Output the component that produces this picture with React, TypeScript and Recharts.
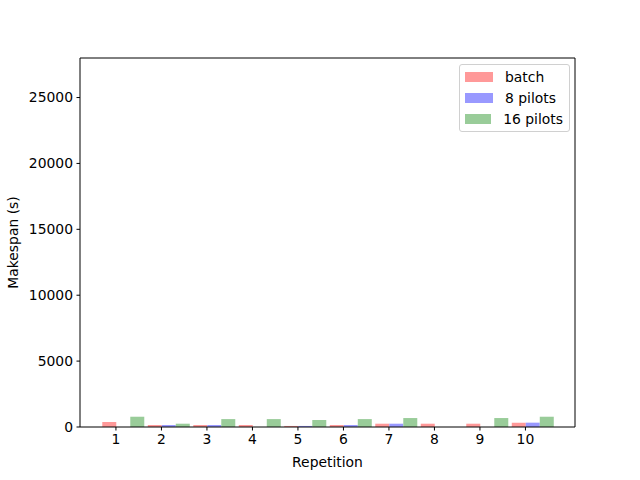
import { BarChart, Bar, XAxis, YAxis, Legend } from "recharts"

// repetition numbers and makespans
const repetitions = [1, 2, 3, 4, 5, 6, 7, 8, 9, 10]
const batchMakespan = [380, 150, 150, 150, 80, 150, 250, 250, 250, 330]
const pilots8Makespan = [0, 150, 150, 0, 80, 150, 250, 0, 0, 330]
const pilots16Makespan = [780, 250, 600, 600, 530, 600, 680, 0, 680, 780]
const yTicks = [0, 5000, 10000, 15000, 20000, 25000]
const seriesOrder = ["batch", "8 pilots", "16 pilots"]

const FONT = "'DejaVu Sans', sans-serif"
const FS = 13.9

const data = repetitions.map((rep, i) => ({
  rep,
  batch: batchMakespan[i],
  pilots8: pilots8Makespan[i],
  pilots16: pilots16Makespan[i],
}))

// matplotlib puts the tick at the left edge of the second bar, not at the group centre
const XTick = ({ x, y, payload }: any) => {
  const tx = x - 6.8
  return (
    <g>
      <line x1={tx} x2={tx} y1={y - 7} y2={y - 3.5} stroke="#000" strokeWidth={1} />
      <text x={tx} y={y} dy="0.71em" textAnchor="middle" fill="#000" fontSize={FS} fontFamily={FONT}>
        {payload.value}
      </text>
    </g>
  )
}

// zero-height outer box so the chart does not reserve room for the legend
const LegendBox = ({ payload }: any) => {
  const items = [...(payload || [])].sort(
    (a: any, b: any) => seriesOrder.indexOf(a.value) - seriesOrder.indexOf(b.value)
  )
  return (
    <div style={{ height: 0, overflow: "visible" }}>
      <div
        style={{
          border: "1px solid #d0d0d0",
          borderRadius: 3,
          background: "rgba(255,255,255,0.8)",
          padding: "1px 6px 2px 5px",
          fontFamily: FONT,
          fontSize: FS,
          lineHeight: "16px",
          width: 98,
        }}
      >
        {items.map((p: any) => (
          <div key={p.value} style={{ display: "flex", alignItems: "center", height: 21 }}>
            <div style={{ width: 28, height: 10, background: p.color, marginRight: 12 }} />
            <span style={{ color: "#000", whiteSpace: "nowrap" }}>{p.value}</span>
          </div>
        ))}
      </div>
    </div>
  )
}

export default function App() {
  return (
    <div style={{ position: "absolute", left: 0, top: 0, width: 640, height: 480, background: "#fff", fontFamily: FONT }}>
      <BarChart
        width={640}
        height={480}
        data={data}
        margin={{ top: 57, right: 64, bottom: 0, left: 0 }}
        barCategoryGap="5%"
        barGap={0}
      >
        <XAxis
          dataKey="rep"
          height={53}
          padding={{ left: 20, right: 20 }}
          tickLine={false}
          tickSize={3.5}
          tickMargin={3.5}
          tick={<XTick />}
          axisLine={{ stroke: "#000" }}
          label={{ value: "Repetition", position: "insideBottom", offset: 13, fill: "#000", fontSize: FS, fontFamily: FONT }}
        />
        <XAxis xAxisId="top" orientation="top" dataKey="rep" height={1} tick={false} tickLine={false} axisLine={{ stroke: "#000" }} />
        <YAxis
          width={80}
          domain={[0, 28000]}
          ticks={yTicks}
          allowDataOverflow
          tickSize={3.5}
          tickMargin={3.5}
          tickLine={{ stroke: "#000" }}
          axisLine={{ stroke: "#000" }}
          tick={{ fill: "#000", fontSize: FS, fontFamily: FONT }}
          label={{
            value: "Makespan (s)",
            angle: -90,
            position: "insideLeft",
            offset: 13,
            fill: "#000",
            fontSize: FS,
            fontFamily: FONT,
            style: { textAnchor: "middle" },
          }}
        />
        <YAxis yAxisId="right" orientation="right" width={1} domain={[0, 28000]} tick={false} tickLine={false} axisLine={{ stroke: "#000" }} />
        <Bar dataKey="batch" name="batch" fill="#ff9999" isAnimationActive={false} />
        <Bar dataKey="pilots8" name="8 pilots" fill="#9999ff" isAnimationActive={false} />
        <Bar dataKey="pilots16" name="16 pilots" fill="#99cc99" isAnimationActive={false} />
        <Legend
          content={<LegendBox />}
          wrapperStyle={{ position: "absolute", left: 459, top: 64, width: "auto", height: 0 }}
        />
      </BarChart>
    </div>
  )
}
